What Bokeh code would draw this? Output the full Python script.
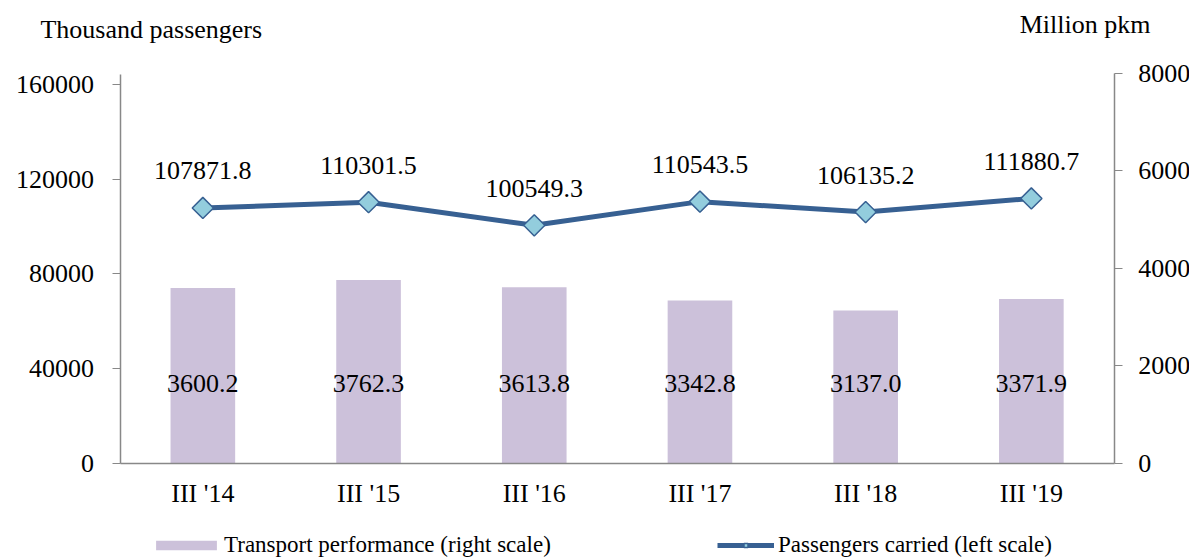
from bokeh.plotting import figure
from bokeh.models import (Range1d, LinearAxis, ColumnDataSource, Label, Legend, LegendItem,
                          FixedTicker, BasicTickFormatter)
from bokeh.core.properties import value
from bokeh.embed import file_html
from bokeh.resources import INLINE
import math

categories = ["III '14", "III '15", "III '16", "III '17", "III '18", "III '19"]
transport_performance = [3600.2, 3762.3, 3613.8, 3342.8, 3137.0, 3371.9]   # million pkm (right)
passengers_carried = [107871.8, 110301.5, 100549.3, 110543.5, 106135.2, 111880.7]  # thousand (left)
left_ticks = [0, 40000, 80000, 120000, 160000]
right_ticks = [0, 2000, 4000, 6000, 8000]

FONT = "Liberation Serif"
FS = "26px"
BAR_COLOR = "#CCC1DA"
LINE_COLOR = "#376092"
MARK_FILL = "#93CDDD"
AXIS_COLOR = "#888888"

xpos = [i + 0.5 for i in range(len(categories))]
src = ColumnDataSource(dict(
    x=xpos,
    tp=transport_performance,
    tp_lab=["%.1f" % v for v in transport_performance],
    tp_laby=[1650] * len(categories),
    pc=passengers_carried,
    pc_lab=["%.1f" % v for v in passengers_carried],
))

W, H = 1189, 558
p = figure(width=W, height=H, x_range=Range1d(-0.7212, 6.4544),
           y_range=Range1d(-40105, 195460), output_backend="svg", toolbar_location=None,
           min_border=0, x_axis_type=None, y_axis_type=None)
p.extra_y_ranges = {"right": Range1d(-1949, 9497)}
p.outline_line_color = None
p.grid.visible = False
p.background_fill_color = "white"
p.border_fill_color = "white"

bars = p.vbar(x="x", top="tp", width=0.39, source=src, y_range_name="right",
              fill_color=BAR_COLOR, line_color=None)
line = p.line(x="x", y="pc", source=src, line_color=LINE_COLOR, line_width=5)
marks = p.scatter(x="x", y="pc", source=src, marker="square", angle=math.pi / 4, size=15,
                  fill_color=MARK_FILL, line_color=LINE_COLOR, line_width=1.5)

p.text(x="x", y="tp_laby", text="tp_lab", source=src, y_range_name="right",
       text_font=value(FONT), text_font_size=FS, text_align="center",
       text_baseline="middle", text_color="black")
p.text(x="x", y="pc", text="pc_lab", source=src,
       text_font=value(FONT), text_font_size=FS, text_align="center",
       text_baseline="middle", text_color="black", y_offset=-37)

# axes (placed at fixed data locations)
ax_x = LinearAxis(fixed_location=0, bounds=(0, len(categories)),
                  ticker=FixedTicker(ticks=xpos),
                  major_label_overrides={x: c for x, c in zip(xpos, categories)})
ax_x.axis_line_color = AXIS_COLOR
ax_x.axis_line_width = 1.5
ax_x.major_tick_line_color = None
ax_x.minor_tick_line_color = None
ax_x.major_label_text_font = FONT
ax_x.major_label_text_font_size = FS
ax_x.major_label_text_color = "black"
ax_x.major_label_standoff = 9
p.add_layout(ax_x, "below")

ax_l = LinearAxis(fixed_location=0, bounds=(0, 164200), ticker=FixedTicker(ticks=left_ticks),
                  formatter=BasicTickFormatter(use_scientific=False))
ax_r = LinearAxis(fixed_location=len(categories), y_range_name="right", bounds=(0, 8000),
                  ticker=FixedTicker(ticks=right_ticks),
                  formatter=BasicTickFormatter(use_scientific=False))
for ax in (ax_l, ax_r):
    ax.axis_line_color = AXIS_COLOR
    ax.major_tick_line_color = AXIS_COLOR
    ax.major_tick_in = 0
    ax.major_tick_out = 8
    ax.minor_tick_line_color = None
    ax.major_label_text_font = FONT
    ax.major_label_text_font_size = FS
    ax.major_label_text_color = "black"
    ax.axis_line_width = 1.5
ax_l.major_label_standoff = 18
ax_r.major_label_standoff = 16
p.add_layout(ax_l, "left")
p.add_layout(ax_r, "right")

# axis titles
p.add_layout(Label(x=-0.48, y=183200, text="Thousand passengers", text_font=FONT,
                   text_font_size=FS, text_baseline="middle", text_align="left",
                   text_color="black"))
p.add_layout(Label(x=5.43, y=185300, text="Million pkm", text_font=FONT,
                   text_font_size=FS, text_baseline="middle", text_align="left",
                   text_color="black"))

# legends
common = dict(orientation="horizontal", padding=0, margin=0, border_line_color=None,
              background_fill_alpha=0, label_height=20,
              label_text_font=FONT, label_text_font_size="23px",
              label_text_color="black")
leg1 = Legend(items=[LegendItem(label="Transport performance (right scale)", renderers=[bars])],
              location=(148, 0), glyph_width=76, glyph_height=12, label_standoff=0, **common)
leg2 = Legend(items=[LegendItem(label="Passengers carried (left scale)", renderers=[line, marks])],
              location=(717, 0), glyph_width=57, glyph_height=10, label_standoff=4, **common)
p.add_layout(leg1, "center")
p.add_layout(leg2, "center")

open("out.html", "w").write(file_html(p, INLINE))
